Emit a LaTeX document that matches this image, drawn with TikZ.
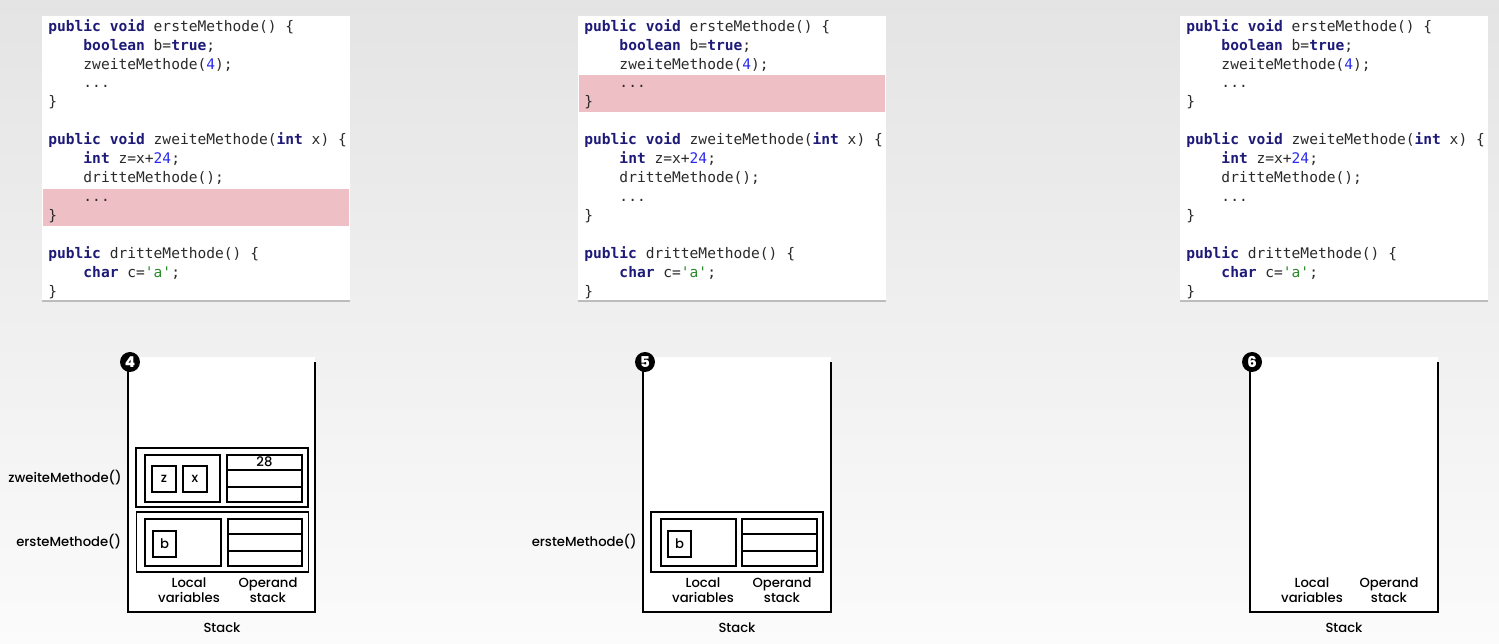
\documentclass[tikz,border=0pt]{standalone}
\usepackage{fontspec}
\usepackage{tikz}
\usetikzlibrary{positioning,shadows,calc}
\newfontfamily\codefont{DejaVu Sans Mono}
\newfontfamily\labelfont{Poppins Medium}
\definecolor{kwcol}{HTML}{1E1A78}
\definecolor{numcol}{HTML}{2B2BF0}
\definecolor{strcol}{HTML}{2A8A2A}
\definecolor{txtcol}{HTML}{2A2A2A}
\definecolor{hilite}{HTML}{EEBFC4}
\definecolor{bgtop}{HTML}{E4E4E4}
\definecolor{bgbot}{HTML}{FBFBFB}
\newcommand\Kw[1]{\textbf{\color{kwcol}#1}}
\newcommand\Num[1]{{\color{numcol}#1}}
\newcommand\Ind{\hphantom{xxxx}}
\newcommand\Code{%
\Kw{public void} ersteMethode() \{\\
\Ind\Kw{boolean} b=\Kw{true};\\
\Ind zweiteMethode(\Num{4});\\
\Ind ...\\
\}\\
\mbox{}\\
\Kw{public void} zweiteMethode(\Kw{int} x) \{\\
\Ind\Kw{int} z=x+\Num{24};\\
\Ind dritteMethode();\\
\Ind ...\\
\}\\
\mbox{}\\
\Kw{public} dritteMethode() \{\\
\Ind\Kw{char} c={\color{strcol}'a'};\\
\}}

\begin{document}
\begin{tikzpicture}[x=0.02cm,y=-0.02cm,
  panel/.style={draw=none,fill=white,minimum width=6.16cm,minimum height=5.68cm,
    drop shadow={shadow xshift=0pt,shadow yshift=-1.4pt,opacity=.45}},
  code/.style={anchor=north west,inner sep=0pt,align=left,text=txtcol,
    font=\codefont\fontsize{8.3}{10.77}\selectfont},
  lbl/.style={font=\labelfont\fontsize{7.5}{8.4}\selectfont,align=center,inner sep=0pt},
  badge/.style={circle,fill=black,text=white,inner sep=0pt,minimum size=.4cm,
    font=\labelfont\bfseries\fontsize{8.5}{8.5}\selectfont},
  stackline/.style={line width=1.3pt},
  box/.style={draw,line width=1.1pt,inner sep=0pt},
  cell/.style={box,minimum width=.48cm,minimum height=.52cm,font=\labelfont\fontsize{7.5}{8}\selectfont}]
\useasboundingbox (0,0) rectangle (1499,644);
\shade[top color=bgtop,bottom color=bgbot] (0,0) rectangle (1499,644);

%% code panels
\node[panel] (p1) at (196,158) {}; %%
\fill[hilite] (43,189) rectangle (349,226); %%
\node[code] (c1) at (48,19) {\Code}; %%
\node[panel] (p2) at (732,158) {}; %%
\fill[hilite] (579,75) rectangle (885,112); %%
\node[code] (c2) at (584,19) {\Code}; %%
\node[panel] (p3) at (1334,158) {}; %%
\node[code] (c3) at (1186,19) {\Code}; %%

%% stack 4
\begin{scope}[shift={(128,0)}]
\fill[white] (0,357) rectangle (187,612); %%
\draw[stackline] (0,362) -- (0,612) -- (187,612) -- (187,362); %%
\node[badge] (n4) at (2,362) {4}; %%
\node[box,minimum width=3.44cm,minimum height=1.18cm] (fz) at (94,477.5) {}; %%
\node[box,minimum width=1.5cm,minimum height=.94cm] (lz) at (54.5,478.5) {}; %%
\node[cell] (z) at (36,479) {z}; %%
\node[cell] (x) at (67,479) {x}; %%
\node[box,minimum width=1.5cm,minimum height=.94cm] (oz) at (136.5,478.5) {}; %%
\node[box,minimum width=3.44cm,minimum height=1.2cm] (fe) at (94.5,542) {}; %%
\node[box,minimum width=1.52cm,minimum height=.94cm] (le) at (55,542.5) {}; %%
\node[cell,minimum width=.46cm] (b) at (36.5,544) {b}; %%
\node[box,minimum width=1.48cm,minimum height=.94cm] (oe) at (137,542.5) {}; %%
\node[lbl,left=0.26cm of fz] (mz) {zweiteMethode()}; %%
\node[lbl,left=0.28cm of fe] (me) {ersteMethode()}; %%
\node[lbl] (lv) at (61,590) {Local\\variables}; %%
\node[lbl] (os) at (140,590) {Operand\\stack}; %%
\node[lbl] (st) at (94,628) {Stack}; %%
\end{scope}
\draw[line width=1.1pt] ($(oz.north west)!1/3!(oz.south west)$) -- ($(oz.north east)!1/3!(oz.south east)$); %%
\draw[line width=1.1pt] ($(oz.north west)!2/3!(oz.south west)$) -- ($(oz.north east)!2/3!(oz.south east)$); %%
\node[lbl] at ($(oz.north)!1/6!(oz.south)$) {28}; %%
\draw[line width=1.1pt] ($(oe.north west)!1/3!(oe.south west)$) -- ($(oe.north east)!1/3!(oe.south east)$); %%
\draw[line width=1.1pt] ($(oe.north west)!2/3!(oe.south west)$) -- ($(oe.north east)!2/3!(oe.south east)$); %%

%% stack 5
\begin{scope}[shift={(643,0)}]
\fill[white] (0,357) rectangle (188,612); %%
\draw[stackline] (0,362) -- (0,612) -- (188,612) -- (188,362); %%
\node[badge] (n5) at (2,362) {5}; %%
\node[box,minimum width=3.44cm,minimum height=1.2cm] (fe5) at (94,542) {}; %%
\node[box,minimum width=1.5cm,minimum height=.94cm] (le5) at (55.5,542.5) {}; %%
\node[cell,minimum width=.46cm] (b5) at (36.5,544) {b}; %%
\node[box,minimum width=1.5cm,minimum height=.94cm] (oe5) at (136.5,542.5) {}; %%
\node[lbl,left=0.26cm of fe5] (me5) {ersteMethode()}; %%
\node[lbl] (lv5) at (60,590) {Local\\variables}; %%
\node[lbl] (os5) at (139,590) {Operand\\stack}; %%
\node[lbl] (st5) at (94,628) {Stack}; %%
\end{scope}
\draw[line width=1.1pt] ($(oe5.north west)!1/3!(oe5.south west)$) -- ($(oe5.north east)!1/3!(oe5.south east)$); %%
\draw[line width=1.1pt] ($(oe5.north west)!2/3!(oe5.south west)$) -- ($(oe5.north east)!2/3!(oe5.south east)$); %%

%% stack 6
\begin{scope}[shift={(1250,0)}]
\fill[white] (0,357) rectangle (188,612); %%
\draw[stackline] (0,362) -- (0,612) -- (188,612) -- (188,362); %%
\node[badge] (n6) at (2,362) {6}; %%
\node[lbl] (lv6) at (62,590) {Local\\variables}; %%
\node[lbl] (os6) at (139,590) {Operand\\stack}; %%
\node[lbl] (st6) at (94,628) {Stack}; %%
\end{scope}
\end{tikzpicture}
\end{document}
